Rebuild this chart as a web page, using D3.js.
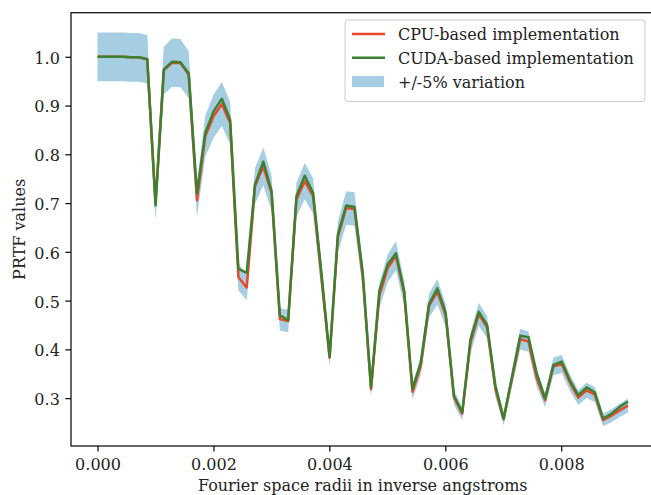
<!DOCTYPE html>
<html>
<head>
<meta charset="utf-8">
<script src="https://cdn.jsdelivr.net/npm/d3@7"></script>
<style>
  body { margin: 0; background: #fff; }
  svg { display: block; font-family: "DejaVu Serif", serif; }
</style>
</head>
<body>
<div class="svg-container"></div>
<script>
// radii (inverse angstroms) of the sampled shells
const radii = [
  0, 0.000143, 0.000286, 0.000429, 0.000572, 0.000715, 0.000858, 0.001001,
  0.001144, 0.001287, 0.00143, 0.001573, 0.001716, 0.001859, 0.002002, 0.002145,
  0.002288, 0.002431, 0.002574, 0.002717, 0.00286, 0.003003, 0.003146, 0.003289,
  0.003432, 0.003575, 0.003718, 0.003861, 0.004004, 0.004147, 0.00429, 0.004433,
  0.004576, 0.004719, 0.004862, 0.005005, 0.005148, 0.005291, 0.005434, 0.005577,
  0.00572, 0.005863, 0.006006, 0.006149, 0.006292, 0.006435, 0.006578, 0.006721,
  0.006864, 0.007007, 0.00715, 0.007293, 0.007436, 0.007579, 0.007722, 0.007865,
  0.008008, 0.008151, 0.008294, 0.008437, 0.00858, 0.008723, 0.008866, 0.009009,
  0.009152
];

const cpuValues = [
  1.0, 1.0, 1.0, 1.0, 0.999, 0.999, 0.995, 0.70,
  0.972, 0.988, 0.987, 0.963, 0.706, 0.837, 0.878, 0.903,
  0.864, 0.548, 0.527, 0.735, 0.775, 0.72, 0.462, 0.458,
  0.707, 0.745, 0.715, 0.55, 0.383, 0.63, 0.69, 0.688,
  0.55, 0.318, 0.51, 0.566, 0.592, 0.515, 0.313, 0.366,
  0.49, 0.518, 0.47, 0.302, 0.268, 0.414, 0.472, 0.445,
  0.319, 0.257, 0.34, 0.421, 0.416, 0.34, 0.296, 0.365,
  0.37, 0.332, 0.301, 0.316, 0.307, 0.255, 0.264, 0.275,
  0.285
];

const cudaValues = [
  1.0, 1.0, 1.0, 1.0, 0.999, 0.999, 0.995, 0.695,
  0.974, 0.99, 0.989, 0.966, 0.72, 0.844, 0.888, 0.914,
  0.871, 0.565, 0.557, 0.738, 0.785, 0.724, 0.47, 0.46,
  0.714, 0.756, 0.721, 0.56, 0.385, 0.636, 0.695, 0.692,
  0.557, 0.322, 0.52, 0.574, 0.597, 0.52, 0.319, 0.373,
  0.493, 0.525, 0.476, 0.305, 0.271, 0.421, 0.477, 0.45,
  0.326, 0.258, 0.343, 0.428, 0.425, 0.35, 0.299, 0.368,
  0.375, 0.336, 0.306, 0.322, 0.312, 0.258, 0.268, 0.282,
  0.293
];

const variation = 0.05;
const xTicks = [0, 0.002, 0.004, 0.006, 0.008];
const yTicks = [0.3, 0.4, 0.5, 0.6, 0.7, 0.8, 0.9, 1.0];
const seriesNames = ['CPU-based implementation', 'CUDA-based implementation', '+/-5% variation'];

// set up dimensions
const width = 651;
const height = 495;
const plot = { left: 71, right: 654.5, top: 12.7, bottom: 446 };
const colours = { cpu: '#e8492a', cuda: '#3c8031', band: '#a6cee3' };
const fontSize = 16;

const data = radii.map((r, i) => ({
  r: r,
  cpu: cpuValues[i],
  cuda: cudaValues[i],
  lo: cpuValues[i] * (1 - variation),
  hi: cpuValues[i] * (1 + variation)
}));

// matplotlib style 5% padding round the data
function padded(lo, hi) {
  const pad = (hi - lo) * 0.05;
  return [lo - pad, hi + pad];
}

const x = d3.scaleLinear()
  .domain(padded(d3.min(radii), d3.max(radii)))
  .range([plot.left, plot.right]);

const y = d3.scaleLinear()
  .domain(padded(d3.min(data, d => d.lo), d3.max(data, d => d.hi)))
  .range([plot.bottom, plot.top]);

const svg = d3.select('.svg-container')
  .append('svg')
  .attr('width', width)
  .attr('height', height);

// variation band
svg.append('path')
  .datum(data)
  .attr('fill', colours.band)
  .attr('d', d3.area()
    .x(d => x(d.r))
    .y0(d => y(d.lo))
    .y1(d => y(d.hi)));

// both lines
const line = key => d3.line()
  .x(d => x(d.r))
  .y(d => y(d[key]));

svg.append('path')
  .datum(data)
  .attr('fill', 'none')
  .attr('stroke', colours.cpu)
  .attr('stroke-width', 2.5)
  .attr('stroke-linejoin', 'round')
  .attr('d', line('cpu'));

svg.append('path')
  .datum(data)
  .attr('fill', 'none')
  .attr('stroke', colours.cuda)
  .attr('stroke-width', 2.5)
  .attr('stroke-linejoin', 'round')
  .attr('d', line('cuda'));

// axes
const xAxis = svg.append('g')
  .attr('transform', `translate(0,${plot.bottom})`)
  .call(d3.axisBottom(x)
    .tickValues(xTicks)
    .tickFormat(d3.format('.3f'))
    .tickSize(5.6)
    .tickPadding(7));

const yAxis = svg.append('g')
  .attr('transform', `translate(${plot.left},0)`)
  .call(d3.axisLeft(y)
    .tickValues(yTicks)
    .tickFormat(d3.format('.1f'))
    .tickSize(5.6)
    .tickPadding(5.6));

[xAxis, yAxis].forEach(g => {
  g.select('.domain').remove();
  g.selectAll('line').attr('stroke', '#000').attr('stroke-width', 1.2);
  g.selectAll('text')
    .attr('fill', '#222')
    .style('font-family', '"DejaVu Serif", serif')
    .style('font-size', `${fontSize}px`);
});
yAxis.selectAll('text').attr('dy', '0.4em');

// frame
svg.append('rect')
  .attr('x', plot.left)
  .attr('y', plot.top)
  .attr('width', plot.right - plot.left)
  .attr('height', plot.bottom - plot.top)
  .attr('fill', 'none')
  .attr('stroke', '#000')
  .attr('stroke-width', 1.2);

// axis labels
svg.append('text')
  .attr('x', (plot.left + plot.right) / 2)
  .attr('y', 490.5)
  .attr('text-anchor', 'middle')
  .attr('fill', '#222')
  .style('font-size', `${fontSize}px`)
  .text('Fourier space radii in inverse angstroms');

svg.append('text')
  .attr('transform', `translate(25,${(plot.top + plot.bottom) / 2}) rotate(-90)`)
  .attr('text-anchor', 'middle')
  .attr('fill', '#222')
  .style('font-size', `${fontSize}px`)
  .text('PRTF values');

// legend
const legend = svg.append('g')
  .attr('id', 'legend')
  .attr('transform', 'translate(345,20)');

legend.append('rect')
  .attr('width', 300)
  .attr('height', 81.5)
  .attr('rx', 3)
  .attr('fill', '#fff')
  .attr('fill-opacity', 0.8)
  .attr('stroke', '#ccc')
  .attr('stroke-width', 1);

const legendRows = legend.selectAll('g.row')
  .data(seriesNames)
  .enter()
  .append('g')
  .attr('class', 'row')
  .attr('transform', (d, i) => `translate(0,${14 + i * 23.8})`);

legendRows.filter((d, i) => i < 2)
  .append('line')
  .attr('x1', 7)
  .attr('x2', 40)
  .attr('stroke', (d, i) => i === 0 ? colours.cpu : colours.cuda)
  .attr('stroke-width', 2.5);

legendRows.filter((d, i) => i === 2)
  .append('rect')
  .attr('x', 7)
  .attr('y', -5.5)
  .attr('width', 32)
  .attr('height', 11)
  .attr('fill', colours.band);

legendRows.append('text')
  .attr('x', 53)
  .attr('y', 6)
  .attr('fill', '#222')
  .style('font-size', `${fontSize}px`)
  .text(d => d);
</script>
</body>
</html>
